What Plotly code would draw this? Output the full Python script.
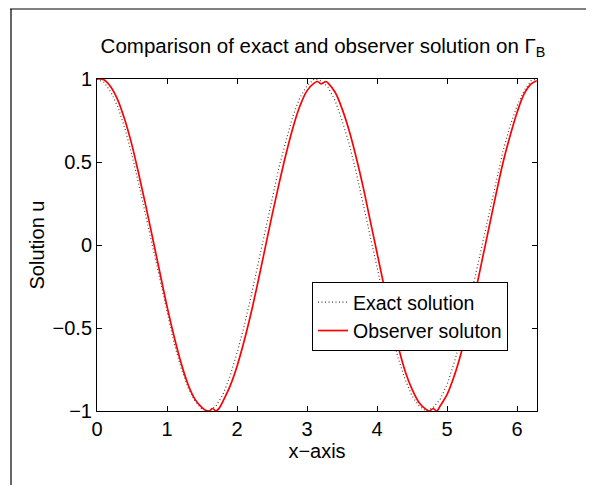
import plotly.graph_objects as go

# x positions
x_exact = [0.0, 0.1, 0.2, 0.3, 0.4, 0.5, 0.6, 0.7, 0.8, 0.9, 1.0, 1.1, 1.2, 1.3, 1.4, 1.5,
           1.6, 1.7, 1.8, 1.9, 2.0, 2.1, 2.2, 2.3, 2.4, 2.5, 2.6, 2.7, 2.8, 2.9, 3.0, 3.1,
           3.2, 3.3, 3.4, 3.5, 3.6, 3.7, 3.8, 3.9, 4.0, 4.1, 4.2, 4.3, 4.4, 4.5, 4.6, 4.7,
           4.8, 4.9, 5.0, 5.1, 5.2, 5.3, 5.4, 5.5, 5.6, 5.7, 5.8, 5.9, 6.0, 6.1, 6.2, 6.28]
u_exact = [1.00, 0.98, 0.92, 0.83, 0.70, 0.54, 0.36, 0.17, -0.03, -0.23, -0.42, -0.59, -0.74,
           -0.86, -0.94, -0.99, -1.00, -0.97, -0.90, -0.79, -0.65, -0.49, -0.31, -0.11, 0.09,
           0.28, 0.47, 0.63, 0.78, 0.89, 0.96, 1.00, 0.99, 0.95, 0.87, 0.75, 0.61, 0.44, 0.25,
           0.06, -0.15, -0.34, -0.52, -0.68, -0.81, -0.91, -0.97, -1.00, -0.98, -0.93, -0.84,
           -0.71, -0.56, -0.38, -0.19, 0.00, 0.20, 0.39, 0.57, 0.72, 0.84, 0.93, 0.99, 1.00]

x_obs = [0.0, 0.1, 0.2, 0.3, 0.4, 0.5, 0.6, 0.7, 0.8, 0.9, 1.0, 1.1, 1.2, 1.3, 1.4, 1.5,
         1.55, 1.6, 1.65, 1.7, 1.75, 1.8, 1.9, 2.0, 2.1, 2.2, 2.3, 2.4, 2.5, 2.6, 2.7, 2.8,
         2.9, 3.0, 3.1, 3.15, 3.2, 3.27, 3.3, 3.4, 3.5, 3.6, 3.7, 3.8, 3.9, 4.0, 4.1, 4.2,
         4.3, 4.4, 4.5, 4.6, 4.7, 4.75, 4.8, 4.85, 4.9, 5.0, 5.1, 5.2, 5.3, 5.4, 5.5, 5.6,
         5.7, 5.8, 5.9, 6.0, 6.1, 6.2, 6.28]
u_obs = [1.00, 0.995, 0.95, 0.87, 0.75, 0.60, 0.42, 0.23, 0.03, -0.17, -0.37, -0.55, -0.71,
         -0.84, -0.93, -0.98, -0.995, -1.00, -0.985, -1.00, -0.98, -0.94, -0.85, -0.73, -0.58,
         -0.41, -0.22, -0.02, 0.18, 0.37, 0.55, 0.71, 0.84, 0.93, 0.975, 0.985, 0.97, 0.985,
         0.975, 0.92, 0.82, 0.69, 0.53, 0.35, 0.15, -0.05, -0.25, -0.44, -0.61, -0.76, -0.87,
         -0.95, -0.99, -1.00, -0.985, -1.00, -0.97, -0.90, -0.79, -0.65, -0.48, -0.29, -0.09,
         0.11, 0.31, 0.50, 0.66, 0.80, 0.91, 0.97, 0.99]

x_ticks = [0, 1, 2, 3, 4, 5, 6]
y_ticks = [-1, -0.5, 0, 0.5, 1]
y_tick_text = ["\u22121", "\u22120.5", "0", "0.5", "1"]

FONT = "Liberation Sans, Arial, Helvetica, sans-serif"

fig = go.Figure()
fig.add_trace(go.Scatter(x=x_exact, y=u_exact, mode="lines", name="Exact solution",
                         line=dict(color="#444444", width=1.2, dash="1px,2.5px")))
fig.add_trace(go.Scatter(x=x_obs, y=u_obs, mode="lines", name="Observer soluton",
                         line=dict(color="#ff0000", width=1.7), line_shape="spline"))

axis_common = dict(showgrid=False, zeroline=False, showline=True, linecolor="black",
                   linewidth=1, mirror="ticks", ticks="inside", ticklen=5, tickcolor="black",
                   tickfont=dict(family=FONT, size=20, color="black"))

# page is offset by the browser's 8px body margin; plot area target (page px): 97..537, 79..411
fig.update_layout(
    width=594, height=485,
    margin=dict(l=89, r=65, t=71, b=82),
    paper_bgcolor="white", plot_bgcolor="white",
    font=dict(family=FONT, color="black"),
    title=dict(text="Comparison of exact and observer solution on \u0393<sub>B</sub>",
               x=(323 - 8) / 594, xanchor="center", y=1 - (46 - 8) / 485, yanchor="middle",
               font=dict(family=FONT, size=20.5, color="black")),
    xaxis=dict(range=[0, 6.2832], tickvals=x_ticks,
               title=dict(text="x\u2212axis", font=dict(family=FONT, size=20), standoff=0),
               **axis_common),
    yaxis=dict(range=[-1, 1], tickvals=y_ticks, ticktext=y_tick_text,
               title=dict(text="Solution u", font=dict(family=FONT, size=20), standoff=2),
               **axis_common),
    legend=dict(x=(312 - 97) / 440, y=(411 - 282) / 332, xanchor="left", yanchor="top",
                bgcolor="white", bordercolor="black", borderwidth=1,
                font=dict(family=FONT, size=19.5, color="black"),
                tracegroupgap=0, itemwidth=30),
    showlegend=True,
)

# outer figure frame lines
fig.add_shape(type="line", xref="paper", yref="paper",
              x0=(10 - 97) / 440, x1=(610 - 97) / 440, y0=(411 - 9) / 332, y1=(411 - 9) / 332,
              line=dict(color="#808080", width=2))
fig.add_shape(type="line", xref="paper", yref="paper",
              x0=(11 - 97) / 440, x1=(11 - 97) / 440, y0=(411 - 9) / 332, y1=(411 - 500) / 332,
              line=dict(color="black", width=1.2))

fig.write_html("out.html")
